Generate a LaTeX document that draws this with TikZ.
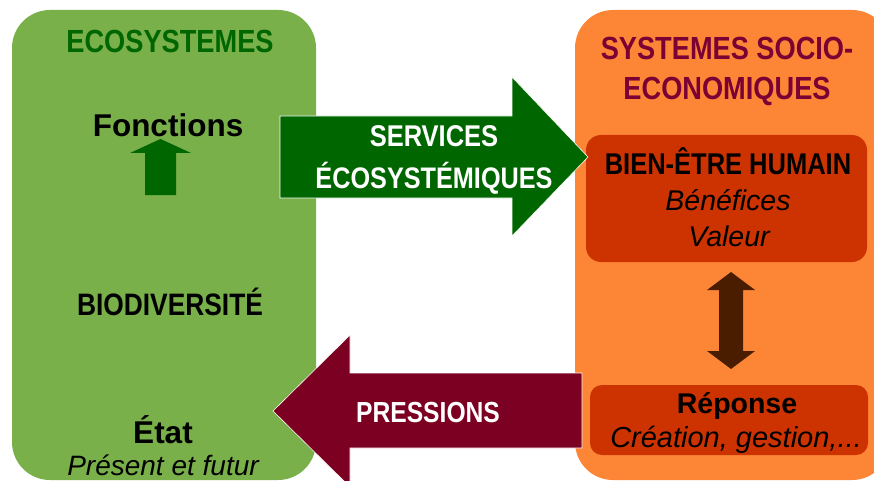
\documentclass[tikz,border=0pt]{standalone}
\usepackage{fontspec}
\setmainfont{Liberation Sans}
\newfontfamily\dinfont[FakeStretch=0.85]{Liberation Sans}
\definecolor{ecogreen}{HTML}{79B04A}
\definecolor{darkgreen}{HTML}{006600}
\definecolor{socorange}{HTML}{FD8636}
\definecolor{redbox}{HTML}{CC3300}
\definecolor{wine}{HTML}{7B0022}
\definecolor{titlewine}{HTML}{7B0033}
\definecolor{brownarrow}{HTML}{4A1D00}
\tikzset{
  din/.style={font=\dinfont\bfseries\fontsize{#1}{#1}\selectfont, anchor=base, inner sep=0pt},
  bold/.style={font=\bfseries\fontsize{#1}{#1}\selectfont, anchor=base, inner sep=0pt},
  ital/.style={font=\itshape\fontsize{#1}{#1}\selectfont, anchor=base, inner sep=0pt},
  blockarrow/.style={fill=#1, draw=white, line width=0.6pt},
}
\begin{document}
\begin{tikzpicture}[x=1pt,y=-1pt]
\useasboundingbox (0,0) rectangle (874,481);
\clip (0,0) rectangle (874,481);
% the two systems
\fill[ecogreen,rounded corners=38pt] (12,10) rectangle (316,480);
\fill[socorange,rounded corners=38pt] (575,10) rectangle (890,480);
\fill[redbox,rounded corners=15pt] (586,135) rectangle (867,262);
\fill[redbox,rounded corners=12pt] (590,385) rectangle (868,455);
% arrows
\fill[darkgreen] (145,195) -- (145,153) -- (130,153) -- (160.5,139) -- (191,153) -- (176,153) -- (176,195) -- cycle;
\fill[brownarrow] (731,272) -- (755,290) -- (743,290) -- (743,351) -- (755,351) -- (731,369)
  -- (707,351) -- (719,351) -- (719,290) -- (707,290) -- cycle;
\filldraw[blockarrow=darkgreen] (280,116) -- (512,116) -- (512,77) -- (588,157) -- (512,236) -- (512,198) -- (280,198) -- cycle;
\filldraw[blockarrow=wine] (582,373) -- (350,373) -- (350,335) -- (273,411) -- (350,487) -- (350,448) -- (582,448) -- cycle;
% texts
\node[din=32, text=darkgreen] (eco) at (170,53) {ECOSYSTEMES};
\node[bold=31.5] (fonctions) at (168,137) {Fonctions};
\node[din=31] (biodiv) at (170,315) {BIODIVERSITÉ};
\node[bold=31.5] (etat) at (163,443) {État};
\node[ital=28] (present) at (163,475) {Présent et futur};
\node[din=30] [text=white] (services) at (434,147) {SERVICES};
\node[din=29.7, text=white] (ecosys) at (434,188) {ÉCOSYSTÉMIQUES};
\node[din=29, text=white] (pressions) at (428,422) {PRESSIONS};
\node[din=32, text=titlewine] (socio) at (727,60) {SYSTEMES SOCIO-};
\node[din=32, text=titlewine] (econ) at (727,100) {ECONOMIQUES};
\node[din=30] (bienetre) at (728,175) {BIEN-ÊTRE HUMAIN};
\node[ital=28.5] (benef) at (728,210) {Bénéfices};
\node[ital=28.5] (valeur) at (729,246) {Valeur};
\node[bold=28.5] (reponse) at (737,413) {Réponse};
\node[ital=29] (creation) at (736,447) {Création, gestion,...};
\end{tikzpicture}
\end{document}
